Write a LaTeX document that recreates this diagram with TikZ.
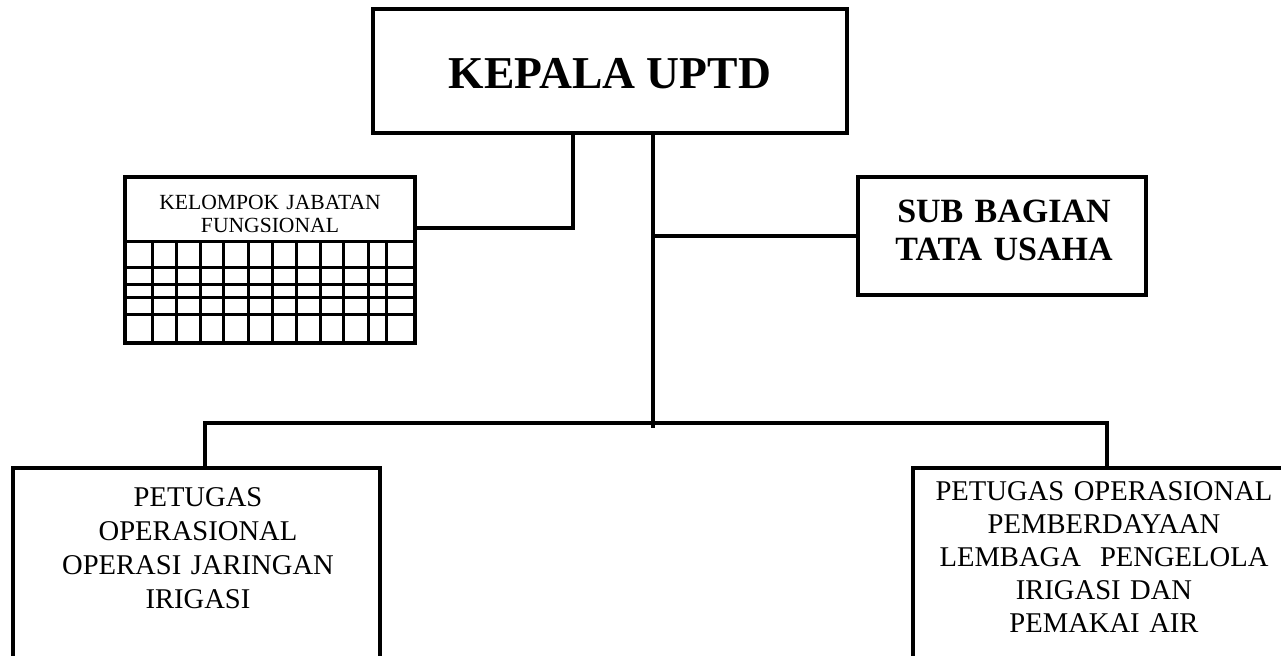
\documentclass[tikz,border=0pt]{standalone}
\usepackage{fontspec}
\setmainfont{Liberation Serif}
\begin{document}
\begin{tikzpicture}[x=0.5pt,y=-0.5pt,
  box/.style={draw, line width=2pt, rectangle, inner sep=0pt},
  conn/.style={line width=2pt},
  gridline/.style={line width=1.5pt},
  txt/.style={anchor=base, inner sep=0pt, align=center}]
\useasboundingbox (0,0) rectangle (1281,655);
\clip (0,0) rectangle (1281,655);
% boxes
\node[box, minimum width=237pt, minimum height=62pt] (kepala) at (610,71) {};
\node[box, minimum width=144pt, minimum height=59pt] (subbag) at (1002,236) {};
\node[box, minimum width=145pt, minimum height=83pt] (kjf) at (270,260) {};
\node[box, minimum width=183.5pt, minimum height=116pt] (petL) at (196.5,584) {};
\node[box, minimum width=192pt, minimum height=116pt] (petR) at (1105,584) {};
% grid in kjf
\draw[gridline] (125,241) -- (415,241);
\foreach \yy in {267,284,297,314} \draw[gridline] (125,\yy) -- (415,\yy);
\foreach \xx in {152,176,200,223,248,272,296,320,343,368,386} \draw[gridline] (\xx,241) -- (\xx,343);
% texts
\node[txt, font=\bfseries\fontsize{22.8pt}{26pt}\selectfont] (kepT) at (610,88) {KEPALA UPTD};
\node[txt, text width=150pt, font=\bfseries\fontsize{17pt}{19pt}\selectfont] (subT) at (1004,222) {SUB BAGIAN\\TATA USAHA};
\node[txt, text width=140pt, font=\fontsize{10.8pt}{11.5pt}\selectfont] (kjfT) at (270,209) {KELOMPOK JABATAN\\FUNGSIONAL};
\node[txt, text width=175pt, font=\fontsize{14.3pt}{17pt}\selectfont] (petLT) at (198,506) {PETUGAS\\OPERASIONAL\\OPERASI JARINGAN\\IRIGASI};
\node[txt, text width=185pt, font=\fontsize{14.3pt}{16.6pt}\selectfont] (petRT) at (1104,500) {PETUGAS OPERASIONAL\\PEMBERDAYAAN\\LEMBAGA\ \ PENGELOLA\\IRIGASI DAN\\PEMAKAI AIR};
% connectors
\coordinate (jk) at (573,228);
\coordinate (hub) at (653,428);
\coordinate (js) at (653,236);
\coordinate (bl) at (205,423);
\coordinate (br) at (1107,423);
\draw[conn] (kepala.south -| jk) -- (jk) -- (kjf.east |- jk);
\draw[conn] (kepala.south -| hub) -- (hub);
\draw[conn] (js) -- (subbag.west |- js);
\draw[conn] (petL.north -| bl) -- (bl) -- (br) -- (petR.north -| br);
\end{tikzpicture}
\end{document}
